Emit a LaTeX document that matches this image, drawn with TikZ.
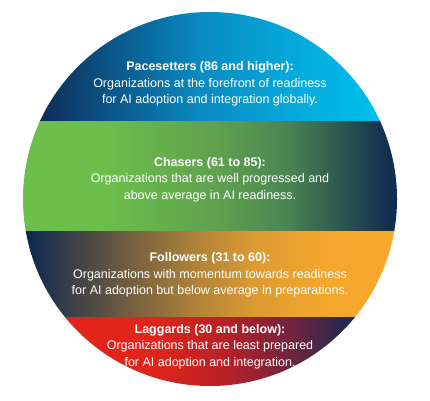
\documentclass[tikz,border=0pt]{standalone}
\usepackage{fontspec}
\setmainfont{Liberation Sans}
\definecolor{navy}{HTML}{0E2A50}
\definecolor{cyanc}{HTML}{00BCEB}
\definecolor{paceA}{HTML}{0A4F80}
\definecolor{paceB}{HTML}{0A8BC2}
\definecolor{paceC}{HTML}{05ABDC}
\definecolor{greenc}{HTML}{6CBF4A}
\definecolor{chaseA}{HTML}{5FA04F}
\definecolor{chaseB}{HTML}{4A8552}
\definecolor{chaseC}{HTML}{2F5A50}
\definecolor{chaseD}{HTML}{16344F}
\definecolor{orangec}{HTML}{F9A92C}
\definecolor{follA}{HTML}{3A3F48}
\definecolor{follB}{HTML}{6A5A40}
\definecolor{follC}{HTML}{A87E3A}
\definecolor{follD}{HTML}{DC9A32}
\definecolor{follE}{HTML}{F3A62D}
\definecolor{redc}{HTML}{E1251B}
\definecolor{lagA}{HTML}{B42127}
\definecolor{lagB}{HTML}{652540}
\definecolor{lagnavy}{HTML}{1C2A50}
\tikzset{
  bandtext/.style={text=white, align=center, font=\fontsize{12.5}{16.5}\selectfont, inner sep=0pt},
}
\newcommand{\bandtitle}[1]{{\bfseries #1}}
\begin{document}
\begin{tikzpicture}[x=1pt,y=-1pt]
\useasboundingbox[fill=white] (0,0) rectangle (430,400);
\coordinate (c) at (210,199);
\begin{scope}
  \clip (c) circle (187);
  % Pacesetters band
  \foreach \xa/\ca/\xb/\cb in {20/navy/33/navy, 33/navy/100/paceA, 100/paceA/200/paceB, 200/paceB/300/paceC, 300/paceC/367/cyanc, 367/cyanc/400/cyanc}
    \shade[left color=\ca, right color=\cb] (\xa,0) rectangle (\xb+0.5,121);
  % Chasers band
  \foreach \xa/\ca/\xb/\cb in {20/greenc/100/greenc, 100/greenc/220/chaseA, 220/chaseA/287/chaseB, 287/chaseB/337/chaseC, 337/chaseC/380/chaseD, 380/chaseD/397/navy, 397/navy/400/navy}
    \shade[left color=\ca, right color=\cb] (\xa,121) rectangle (\xb+0.5,231.5);
  % Followers band
  \foreach \xa/\ca/\xb/\cb in {20/navy/30/navy, 30/navy/70/follA, 70/follA/120/follB, 120/follB/187/follC, 187/follC/253/follD, 253/follD/320/follE, 320/follE/397/orangec, 397/orangec/400/orangec}
    \shade[left color=\ca, right color=\cb] (\xa,231.5) rectangle (\xb+0.5,317);
  % Laggards band
  \foreach \xa/\ca/\xb/\cb in {20/redc/150/redc, 150/redc/230/lagA, 230/lagA/300/lagB, 300/lagB/350/lagnavy, 350/lagnavy/400/lagnavy}
    \shade[left color=\ca, right color=\cb] (\xa,317) rectangle (\xb+0.5,400);
\end{scope}
\node[bandtext] (pace) at (210,83.8) {\bandtitle{Pacesetters (86 and higher):}\\Organizations at the forefront of readiness\\for AI adoption and integration globally.};
\node[bandtext] (chase) at (210,179.5) {\bandtitle{Chasers (61 to 85):}\\Organizations that are well progressed and\\above average in AI readiness.};
\node[bandtext] (foll) at (210,275) {\bandtitle{Followers (31 to 60):}\\Organizations with momentum towards readiness\\for AI adoption but below average in preparations.};
\node[bandtext] (lag) at (210,346.5) {\bandtitle{Laggards (30 and below):}\\Organizations that are least prepared\\for AI adoption and integration.};
\end{tikzpicture}
\end{document}
